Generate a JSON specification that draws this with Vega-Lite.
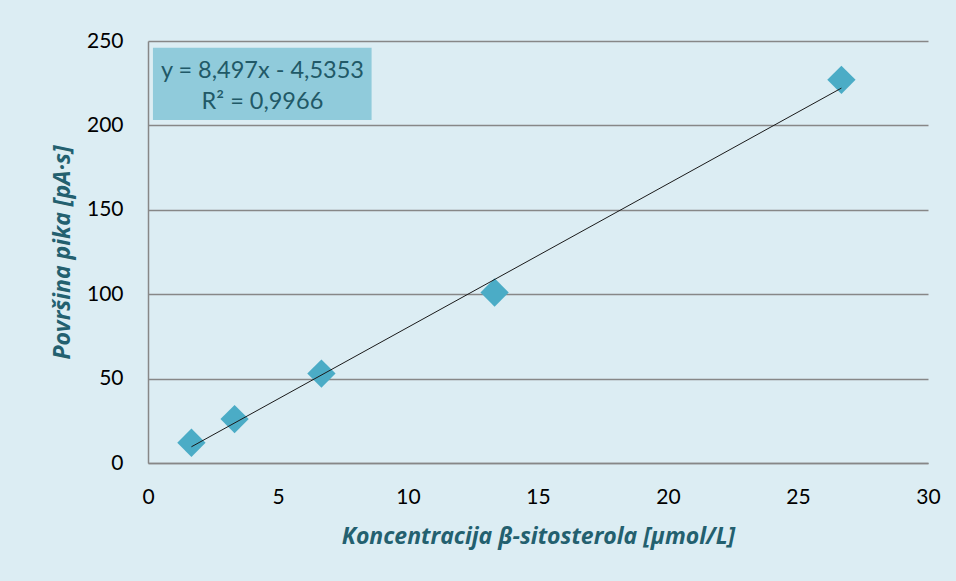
{
  "$schema": "https://vega.github.io/schema/vega-lite/v6.json",
  "width": 780,
  "height": 422,
  "autosize": {"type": "none"},
  "padding": {"left": 148, "top": 41, "right": 28, "bottom": 118},
  "background": "#dcedf3",
  "config": {
    "view": {"stroke": null},
    "font": "Lato",
    "axis": {
      "labelFont": "Lato",
      "labelFontSize": 21,
      "labelColor": "#000000",
      "labelFlush": false,
      "titleFont": "Open Sans",
      "titleFontSize": 23,
      "titleFontWeight": "bold",
      "titleFontStyle": "italic",
      "titleColor": "#23606f",
      "domainColor": "#878787",
      "domainWidth": 1.5,
      "gridColor": "#878787",
      "gridWidth": 1.5,
      "ticks": false
    }
  },
  "datasets": {
    "points": [
      {"conc": 1.67, "area": 12},
      {"conc": 3.33, "area": 26},
      {"conc": 6.67, "area": 53},
      {"conc": 13.33, "area": 101},
      {"conc": 26.67, "area": 227}
    ],
    "trend": [
      {"conc": 1.67, "area": 9.6},
      {"conc": 26.67, "area": 222.1}
    ]
  },
  "layer": [
    {
      "data": {"name": "points"},
      "mark": {"type": "point", "shape": "diamond", "filled": true, "size": 800, "color": "#4bacc6", "opacity": 1},
      "encoding": {
        "x": {
          "field": "conc", "type": "quantitative",
          "scale": {"domain": [0, 30], "nice": false},
          "axis": {"values": [0, 5, 10, 15, 20, 25, 30], "grid": false, "labelPadding": 23, "titlePadding": 18,
                   "title": "Koncentracija β-sitosterola  [µmol/L]"}
        },
        "y": {
          "field": "area", "type": "quantitative",
          "scale": {"domain": [0, 250], "nice": false},
          "axis": {"values": [0, 50, 100, 150, 200, 250], "grid": true, "labelPadding": 25, "titlePadding": 12,
                   "title": "Površina pika [pA·s]"}
        }
      }
    },
    {
      "data": {"name": "trend"},
      "mark": {"type": "line", "color": "#1a1a1a", "strokeWidth": 1},
      "encoding": {
        "x": {"field": "conc", "type": "quantitative"},
        "y": {"field": "area", "type": "quantitative"}
      }
    },
    {
      "data": {"values": [{}]},
      "mark": {"type": "rect", "color": "#90cbdb"},
      "encoding": {
        "x": {"datum": 0.19},
        "x2": {"datum": 8.6},
        "y": {"datum": 246},
        "y2": {"datum": 203.2}
      }
    },
    {
      "data": {"values": [{"line": "y = 8,497x - 4,5353", "ypos": 232.5}, {"line": "R² = 0,9966", "ypos": 214}]},
      "mark": {"type": "text", "font": "Lato", "fontSize": 23.5, "color": "#215967", "align": "center", "baseline": "middle"},
      "encoding": {
        "x": {"datum": 4.4},
        "y": {"field": "ypos", "type": "quantitative"},
        "text": {"field": "line"}
      }
    }
  ]
}
